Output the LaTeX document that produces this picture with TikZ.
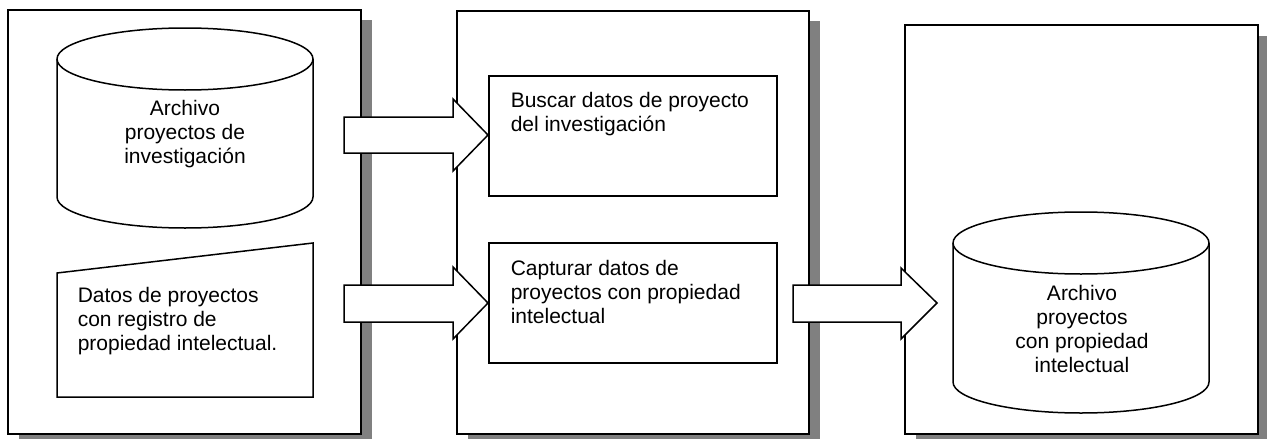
\documentclass[tikz,border=0pt]{standalone}
\usepackage{fontspec}
\setmainfont{Liberation Sans}
\definecolor{shadowgray}{RGB}{128,128,128}
\begin{document}
\begin{tikzpicture}[x=1pt,y=-1pt,line width=1.5pt,line join=miter,
  shadowc/.style={fill=shadowgray,draw=none},
  panel/.style={draw=black,fill=white},
  shp/.style={draw=black,fill=white},
  blockarrow/.style={draw=black,fill=white},
  ltxt/.style={inner sep=0pt,font=\fontsize{21}{24}\selectfont,align=left,anchor=north west},
  ctxt/.style={inner sep=0pt,font=\fontsize{21}{24}\selectfont,align=center,anchor=north}]
\useasboundingbox (0,0) rectangle (1267,439);
% shadows
\fill[shadowc] (19,20) rectangle (372,445);
\fill[shadowc] (468,21) rectangle (820,445);
\fill[shadowc] (916,36) rectangle (1269,445);
% panels
\draw[panel] (8,10) rectangle (361,434);
\draw[panel] (457,11) rectangle (809,434);
\draw[panel] (905,25) rectangle (1258,434);
% cylinder 1
\draw[shp] (57,59) -- (57,197) arc[start angle=180,end angle=0,x radius=128,y radius=31]
  -- (313,59) arc[start angle=0,end angle=-180,x radius=128,y radius=31] -- cycle;
\draw (313,59) arc[start angle=0,end angle=180,x radius=128,y radius=31];
% trapezoid (manual input)
\draw[shp] (57,273) -- (313,243) -- (313,397) -- (57,397) -- cycle;
% process boxes
\draw[shp] (489,76) rectangle (777,196);
\draw[shp] (489,243) rectangle (777,363);
% cylinder 2
\draw[shp] (953,243) -- (953,382) arc[start angle=180,end angle=0,x radius=128,y radius=31]
  -- (1209,243) arc[start angle=0,end angle=-180,x radius=128,y radius=31] -- cycle;
\draw (1209,243) arc[start angle=0,end angle=180,x radius=128,y radius=31];
% block arrows
\draw[blockarrow] (344,117) -- (453,117) -- (453,99) -- (488,135) -- (453,171) -- (453,153) -- (344,153) -- cycle;
\draw[blockarrow] (344,285) -- (453,285) -- (453,267) -- (488,303) -- (453,339) -- (453,322) -- (344,322) -- cycle;
\draw[blockarrow] (793,285) -- (901,285) -- (901,268) -- (937,303) -- (901,339) -- (901,322) -- (793,322) -- cycle;
% texts
\node[ctxt] (t1) at (185,100) {Archivo\\proyectos de\\investigación};
\node[ltxt] (t2) at (77,287) {Datos de proyectos\\con registro de\\propiedad intelectual.};
\node[ltxt] (t3) at (510,92) {Buscar datos de proyecto\\del investigación};
\node[ltxt] (t4) at (510,260) {Capturar datos de\\proyectos con propiedad\\intelectual};
\node[ctxt] (t5) at (1082,285) {Archivo\\proyectos\\con propiedad\\intelectual};
\end{tikzpicture}
\end{document}
